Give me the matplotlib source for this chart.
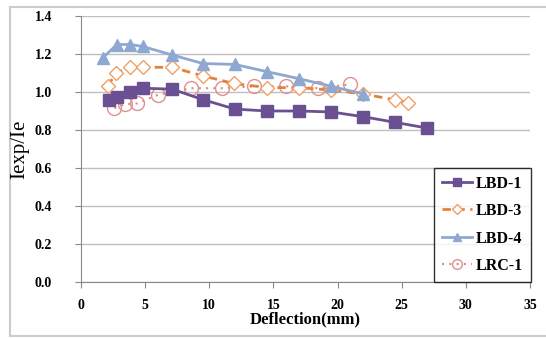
import matplotlib
matplotlib.use("Agg")
import matplotlib.pyplot as plt
from matplotlib.lines import Line2D

lbd1_x = [2.2, 2.8, 3.8, 4.8, 7.1, 9.5, 12.0, 14.5, 17.0, 19.5, 22.0, 24.5, 27.0]
lbd1_y = [0.96, 0.975, 1.0, 1.02, 1.015, 0.96, 0.91, 0.90, 0.90, 0.895, 0.87, 0.84, 0.81]

lbd3_x = [2.1, 2.7, 3.8, 4.8, 7.1, 9.5, 11.9, 14.5, 17.0, 19.5, 22.0, 24.5, 25.5]
lbd3_y = [1.03, 1.10, 1.13, 1.13, 1.13, 1.085, 1.045, 1.023, 1.023, 1.01, 0.99, 0.958, 0.944]

lbd4_x = [1.7, 2.8, 3.8, 4.8, 7.1, 9.5, 12.0, 14.5, 17.0, 19.5, 22.0]
lbd4_y = [1.18, 1.25, 1.25, 1.24, 1.195, 1.15, 1.145, 1.107, 1.07, 1.03, 0.99]

lrc1_x = [2.6, 3.4, 4.4, 6.0, 8.6, 11.0, 13.5, 16.0, 18.5, 21.0]
lrc1_y = [0.915, 0.935, 0.94, 0.985, 1.02, 1.02, 1.03, 1.03, 1.02, 1.04]

x_ticks = [0, 5, 10, 15, 20, 25, 30, 35]
y_ticks = [0.0, 0.2, 0.4, 0.6, 0.8, 1.0, 1.2, 1.4]

plt.rcParams['font.family'] = ['Liberation Serif', 'DejaVu Serif']

W, H = 546, 338
fig = plt.figure(figsize=(W/100, H/100), dpi=100)
ax = fig.add_axes([81/W, 56/H, 449/W, 266/H])

# chart border
bc = '#CCCCCC'
fig.add_artist(Line2D([10/W, 1.0], [1-7/H, 1-7/H], color=bc, lw=1.5, transform=fig.transFigure, zorder=0))
fig.add_artist(Line2D([10/W, 10/W], [1-7/H, 1-336/H], color=bc, lw=1.5, transform=fig.transFigure, zorder=0))
fig.add_artist(Line2D([10/W, 1.0], [1-336/H, 1-336/H], color=bc, lw=1.5, transform=fig.transFigure, zorder=0))

ax.plot(lbd1_x, lbd1_y, color='#6A5092', lw=2, marker='s', ms=8,
        mfc='#6A5092', mec='#6A5092', label='LBD-1', zorder=3)
ax.plot(lbd3_x, lbd3_y, color='#E3823A', lw=2, ls=(0, (3, 2)), marker='D', ms=7,
        mfc='white', mec='#F0A066', mew=1, label='LBD-3', zorder=4)
ax.plot(lbd4_x, lbd4_y, color='#8EA8D2', lw=2, marker='^', ms=9,
        mfc='#8EA8D2', mec='#8EA8D2', label='LBD-4', zorder=5)
ax.plot(lrc1_x, lrc1_y, color='#D98A88', lw=1.5, ls=(0, (1, 2.5)), marker='o', ms=10,
        mfc='none', mec='#E0908E', mew=1, label='LRC-1', zorder=2)

ax.set_xlim(0, 35)
ax.set_ylim(0, 1.4)
ax.set_xticks(x_ticks)
ax.set_yticks(y_ticks)
ax.set_yticklabels([f"{v:.1f}" for v in y_ticks])
ax.set_xticklabels([str(v) for v in x_ticks])
ax.tick_params(axis='both', labelsize=10, direction='out', length=4, color='#888888')
for lab in ax.get_xticklabels() + ax.get_yticklabels():
    lab.set_fontweight('bold')
ax.tick_params(axis='x', pad=8)
ax.tick_params(axis='y', pad=17)

ax.grid(axis='y', color='#BFBFBF', lw=1)
ax.set_axisbelow(True)
for s in ['top', 'right']:
    ax.spines[s].set_visible(False)
for s in ['left', 'bottom']:
    ax.spines[s].set_color('#888888')

ax.set_xlabel('Deflection(mm)', fontsize=12, fontweight='bold', labelpad=0)
ax.set_ylabel('Iexp/Ie', fontsize=15, fontweight='normal')
ax.yaxis.set_label_coords(-52/449, 0.5)

leg = ax.legend(loc='lower right', bbox_to_anchor=(1.002, 0.0), borderaxespad=0,
                frameon=True, fancybox=False, edgecolor='black',
                prop={'weight': 'bold', 'size': 11.5}, handlelength=1.9,
                labelspacing=0.72, borderpad=0.5, handletextpad=0.2, markerscale=0.7)
leg.get_frame().set_linewidth(1)

fig.savefig('out.png', dpi=100)
